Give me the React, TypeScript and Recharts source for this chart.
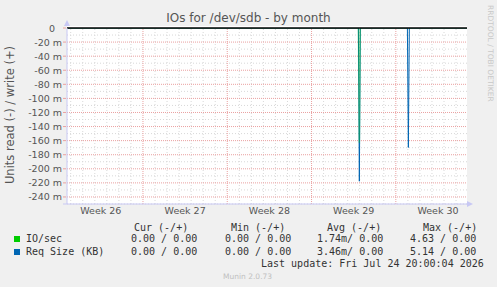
import React from "react";
import {
  ComposedChart,
  Line,
  XAxis,
  YAxis,
  ReferenceLine,
} from "recharts";

// time axis in days from left edge of the graph
const times = [0, 24.2, 24.28, 24.36, 28.27, 28.35, 28.43, 33.22];
const ioSecRead = [0, 0, -163, 0, 0, 0, 0, 0];
const reqSizeRead = [0, 0, -217.6, 0, 0, -169.7, 0, 0];

const weekLabels = ["Week 26", "Week 27", "Week 28", "Week 29", "Week 30"];
const weekMids = [2.81, 9.81, 16.81, 23.81, 30.81];
const weekStarts = [6.31, 13.31, 20.31, 27.31];
const dayLines = Array.from({ length: 34 }, (_, i) => 0.31 + i).filter(
  (d) => d < 33.2 && !weekStarts.some((w) => Math.abs(w - d) < 0.01)
);

const yTicks = [0, -20, -40, -60, -80, -100, -120, -140, -160, -180, -200, -220, -240];
const yMinor = [-10, -30, -50, -70, -90, -110, -130, -150, -170, -190, -210, -230, -250];

const legendRows = [
  { name: "IO/sec", color: "#00cc00", cur: "0.00 / 0.00", min: "0.00 / 0.00", avg: "1.74m/ 0.00", max: "4.63 / 0.00" },
  { name: "Req Size (KB)", color: "#0066b3", cur: "0.00 / 0.00", min: "0.00 / 0.00", avg: "3.46m/ 0.00", max: "5.14 / 0.00" },
];

const data = times.map((t, i) => ({ t, io: ioSecRead[i], req: reqSizeRead[i] }));

const MINOR = "#d8d8d8";
const MAJOR = "#eaa0a0";
const AXIS = "#c8c8f4";
const mono = "'DejaVu Sans Mono', monospace";
const sans = "'DejaVu Sans', sans-serif";

function YTick(props: any) {
  const { x, y, payload } = props;
  const v = payload.value as number;
  return (
    <g>
      <line x1={x + 2} x2={x + 5} y1={y} y2={y} stroke={MAJOR} />
      <text x={v === 0 ? x - 6 : x + 1} y={y} dy={3.5} textAnchor="end" fontSize={9.5} fill="#555" fontFamily={sans}>
        {v === 0 ? "0" : `${v} m`}
      </text>
    </g>
  );
}

function XTick(props: any) {
  const { x, y, index } = props;
  return (
    <text x={x} y={y} dy={10} textAnchor="middle" fontSize={9.5} fill="#555" fontFamily={sans}>
      {weekLabels[index]}
    </text>
  );
}

export default function App() {
  return (
    <div
      style={{
        position: "absolute",
        left: 0,
        top: 0,
        width: 497,
        height: 287,
        background: "#f0f0f0",
        overflow: "hidden",
      }}
    >
      <div
        style={{
          position: "absolute",
          left: 0,
          top: 11,
          width: 497,
          textAlign: "center",
          fontFamily: sans,
          fontSize: 12,
          color: "#555",
        }}
      >
        IOs for /dev/sdb - by month
      </div>
      <svg width={497} height={287} style={{ position: "absolute", left: 0, top: 0 }}>
        <rect x={67} y={26} width={400} height={178} fill="#fff" />
        <text
          transform="translate(14,115) rotate(-90)"
          textAnchor="middle"
          fontSize={11.5}
          fill="#555"
          fontFamily={sans}
        >
          Units read (-) / write (+)
        </text>
        <text
          transform="translate(488,5) rotate(90)"
          fontSize={7.5}
          fill="#c8c8c8"
          fontFamily={sans}
        >
          RRDTOOL / TOBI OETIKER
        </text>
      </svg>
      <div style={{ position: "absolute", left: 0, top: 0 }}>
        <ComposedChart
          width={497}
          height={287}
          data={data}
          margin={{ top: 28, right: 30, bottom: 63, left: 7 }}
        >
          <XAxis
            dataKey="t"
            type="number"
            domain={[0, 33.22]}
            ticks={weekMids}
            interval={0}
            axisLine={{ stroke: AXIS }}
            tickLine={false}
            tickSize={0}
            tickMargin={0}
            height={20}
            tick={<XTick />}
          />
          <YAxis
            type="number"
            domain={[-250, 0]}
            ticks={yTicks}
            interval={0}
            width={60}
            axisLine={{ stroke: AXIS }}
            tickLine={false}
            tickSize={0}
            tickMargin={6}
            tick={<YTick />}
            allowDataOverflow
          />
          {yMinor.map((v) => (
            <ReferenceLine key={`hm${v}`} y={v} stroke={MINOR} strokeDasharray="1 2" />
          ))}
          {dayLines.map((d) => (
            <ReferenceLine key={`vm${d}`} x={d} stroke={MINOR} strokeDasharray="1 2" />
          ))}
          {yTicks.filter((v) => v !== 0).map((v) => (
            <ReferenceLine key={`hM${v}`} y={v} stroke={MAJOR} strokeDasharray="1 1" />
          ))}
          {weekStarts.map((d) => (
            <ReferenceLine key={`vM${d}`} x={d} stroke={MAJOR} strokeDasharray="1 1" />
          ))}
          <Line
            type="linear"
            dataKey="req"
            stroke="#0066b3"
            strokeWidth={1}
            dot={false}
            isAnimationActive={false}
          />
          <Line
            type="linear"
            dataKey="io"
            stroke="#00cc00"
            strokeOpacity={0.35}
            strokeWidth={1.5}
            dot={false}
            isAnimationActive={false}
          />
          <ReferenceLine y={0} stroke="#000" strokeWidth={1.5} />
        </ComposedChart>
      </div>
      <svg width={497} height={287} style={{ position: "absolute", left: 0, top: 0, pointerEvents: "none" }}>
        <path d="M64,26 L67,20 L70,26 Z" fill={AXIS} />
        <path d="M467,201 L473,204 L467,207 Z" fill={AXIS} />
        <line x1={63} x2={67} y1={204} y2={204} stroke={AXIS} />
      </svg>
      <div
        style={{
          position: "absolute",
          left: 0,
          top: 0,
          fontFamily: mono,
          fontSize: 10,
          color: "#333",
          whiteSpace: "pre",
          lineHeight: "12px",
        }}
      >
        <div style={{ position: "absolute", left: 134, top: 222 }}>Cur (-/+)</div>
        <div style={{ position: "absolute", left: 231, top: 222 }}>Min (-/+)</div>
        <div style={{ position: "absolute", left: 327, top: 222 }}>Avg (-/+)</div>
        <div style={{ position: "absolute", left: 423, top: 222 }}>Max (-/+)</div>
        {legendRows.map((r, i) => (
          <React.Fragment key={r.name}>
            <div
              style={{
                position: "absolute",
                left: 14,
                top: 236 + i * 12.5,
                width: 6,
                height: 6,
                background: r.color,
              }}
            />
            <div style={{ position: "absolute", left: 26, top: 233 + i * 12.5 }}>{r.name}</div>
            <div style={{ position: "absolute", left: 131, top: 233 + i * 12.5 }}>{r.cur}</div>
            <div style={{ position: "absolute", left: 225, top: 233 + i * 12.5 }}>{r.min}</div>
            <div style={{ position: "absolute", left: 317, top: 233 + i * 12.5 }}>{r.avg}</div>
            <div style={{ position: "absolute", left: 410, top: 233 + i * 12.5 }}>{r.max}</div>
          </React.Fragment>
        ))}
        <div style={{ position: "absolute", left: 261, top: 258 }}>
          Last update: Fri Jul 24 20:00:04 2026
        </div>
        <div
          style={{
            position: "absolute",
            left: 223,
            top: 271,
            fontFamily: sans,
            fontSize: 7.5,
            color: "#c0c0c0",
          }}
        >
          Munin 2.0.73
        </div>
      </div>
    </div>
  );
}
